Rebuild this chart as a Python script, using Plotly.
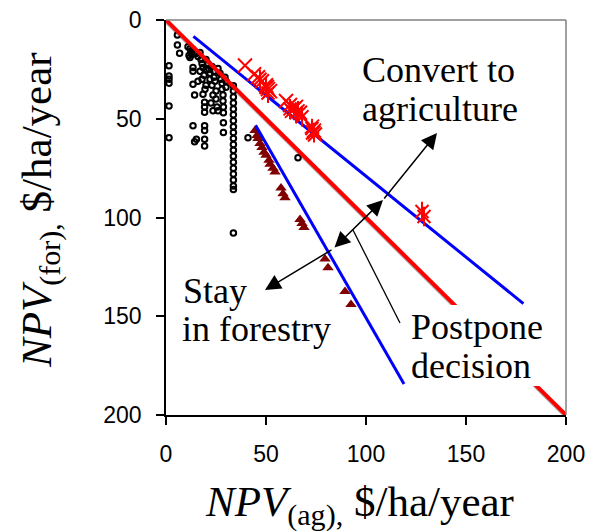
import plotly.graph_objects as go

# ---------------- data ----------------
circle_x = [5.7, 5.7, 6.8, 1.5, 1.5, 1.5, 1.5, 1.5, 1.5,
            11, 12, 12.5, 13, 11.5, 13.5, 12, 13.5, 13.5, 13.5, 14.3, 13.5, 15.2, 14.3,
            15, 16, 17, 17.5, 18, 18.5, 17, 19, 18, 16, 18.5, 19.3, 19.3, 19.3, 19.3, 19.3, 19.3, 19.3, 20, 20, 20, 19.5,
            21, 21.5, 22, 22, 23, 23, 23.5, 24, 24, 24.5, 25, 25, 25.5, 26, 26, 22.5, 23.5,
            27, 27.5, 28, 28, 28.5, 28.5, 28.7, 28.7, 28.7, 28.7, 29.5, 30, 30,
            33.7, 33.7, 33.7, 33.7, 33.7, 33.7, 33.7, 33.7, 33.7, 33.7, 33.7, 33.7, 33.7, 33.7, 33.7, 33.7, 33.7, 33.7, 33.7, 33.7,
            41, 66]
circle_y = [7.6, 12.7, 16.8, 23.2, 28.3, 30, 32, 43.5, 59.6,
            13.5, 14.5, 16, 17.5, 18, 15, 19, 24, 26, 32.5, 38, 53.6, 60.4, 61.6,
            17, 18.5, 16.5, 20, 22, 24, 26, 28, 30, 31, 37.6, 41.6, 44, 46.7, 53.6, 56, 60.4, 63.8, 20, 25, 33, 35,
            22, 25, 27, 30, 23.5, 33, 38, 26, 29, 31, 36, 40, 44, 46, 24.5, 42, 46,
            27, 30, 32, 35, 38, 41, 44, 47, 52, 57, 29, 31, 34,
            33.3, 36, 39, 42, 45, 48, 51, 54, 57, 60, 63, 66, 69, 72, 75, 78, 81, 84, 85.8, 107.8,
            59.6, 69.7]

cross_x = [39.5, 44, 46, 48, 50, 51, 52, 50.5, 60, 62, 64, 65, 67, 63, 73, 74, 74.5, 73.5]
cross_y = [23, 27.5, 29, 31, 33, 35, 36, 34, 41, 43, 45, 44, 47, 46, 54, 56, 58, 57]

star_x = [47, 50, 51, 62, 65, 66, 68, 73, 74, 128, 129]
star_y = [30, 34, 37, 45, 47, 46, 49, 55, 57, 97, 99.5]

tri_x = [44.5, 45.5, 46, 47, 48, 49, 50, 51.5, 52, 53.5, 54.5, 57.5, 58.5, 59.5, 67, 68, 69, 79.5, 81, 89.5, 92.5]
tri_y = [56, 58.5, 60, 62.5, 64.5, 67, 68.5, 71, 73, 75, 77, 85, 88, 90, 101, 103, 105, 121, 125.5, 137.5, 144]

red_x = [0, 200]
red_y = [0, 200]
blue_upper_x = [13.7, 178.7]
blue_upper_y = [8.3, 143.6]
blue_lower_x = [44.8, 119]
blue_lower_y = [53.3, 184.3]

x_ticks = [0, 50, 100, 150, 200]
y_ticks = [0, 50, 100, 150, 200]

# ---------------- layout helpers ----------------
L, R, T, B = 166, 25, 20, 116
W, H = 591, 531
PW, PH = W - L - R, H - T - B


def px_x(px):
    return (px - L) / PW * 200


def px_y(py):
    return (py - T) / PH * 200


def pap_x(px):
    return (px - L) / PW


def pap_y(py):
    return (H - B - py) / PH


SERIF = "Liberation Serif, Times New Roman, serif"
SANS = "Liberation Sans, Arial, sans-serif"

fig = go.Figure()

# shadow for red line
fig.add_trace(go.Scatter(x=[v for v in red_x], y=[v + 1.6 for v in red_y], mode="lines",
                         line=dict(color="#b0b0b0", width=1.5), hoverinfo="skip"))

fig.add_trace(go.Scatter(x=circle_x, y=circle_y, mode="markers",
                         marker=dict(symbol="circle-open", size=5.5, color="black", line=dict(width=2))))
fig.add_trace(go.Scatter(x=tri_x, y=tri_y, mode="markers",
                         marker=dict(symbol="triangle-up", size=10, color="#800000")))
fig.add_trace(go.Scatter(x=red_x, y=red_y, mode="lines", line=dict(color="#ff0000", width=4)))
fig.add_trace(go.Scatter(x=blue_upper_x, y=blue_upper_y, mode="lines", line=dict(color="#0000ff", width=3)))
fig.add_trace(go.Scatter(x=blue_lower_x, y=blue_lower_y, mode="lines", line=dict(color="#0000ff", width=3)))
fig.add_trace(go.Scatter(x=cross_x, y=cross_y, mode="markers",
                         marker=dict(symbol="x-thin-open", size=14, color="#ff0000", line=dict(width=2, color="#ff0000"))))
fig.add_trace(go.Scatter(x=star_x, y=star_y, mode="markers",
                         marker=dict(symbol="x-thin-open", size=13, color="#ff0000", line=dict(width=2, color="#ff0000"))))
fig.add_trace(go.Scatter(x=star_x, y=star_y, mode="markers",
                         marker=dict(symbol="line-ns-open", size=14, color="#ff0000", line=dict(width=2, color="#ff0000"))))

shapes = [
    # white box behind "Postpone decision"
    dict(type="rect", xref="x", yref="y", x0=px_x(406), x1=px_x(541), y0=px_y(305), y1=px_y(386),
         fillcolor="white", line=dict(width=0), layer="above"),
    # frame top and right (gray)
    dict(type="line", xref="paper", yref="paper", x0=0, x1=1, y0=1, y1=1, line=dict(color="#808080", width=1.5)),
    dict(type="line", xref="paper", yref="paper", x0=1, x1=1, y0=0, y1=1, line=dict(color="#808080", width=1.5)),
    # pointer to "Postpone decision"
    dict(type="line", xref="x", yref="y", x0=px_x(353), y0=px_y(230), x1=px_x(400), y1=px_y(323),
         line=dict(color="black", width=1.3), layer="above"),
]

annotations = []


def label(text, px, py_base, size=36):
    annotations.append(dict(text=text, xref="paper", yref="paper", x=pap_x(px), y=pap_y(py_base - 0.3 * size),
                            xanchor="left", yanchor="middle", showarrow=False,
                            font=dict(family=SERIF, size=size, color="black")))


label("Convert to", 360, 81)
label("agriculture", 360, 120)
label("Stay", 181, 302)
label("in forestry", 180, 340)
label("Postpone", 409, 338)
label("decision", 409, 377)

P1 = (px_x(437), px_y(133))
P2 = (px_x(383), px_y(200))
P3 = (px_x(333), px_y(249))
P4 = (px_x(265), px_y(290))


def arrow(head, tail, side="end"):
    annotations.append(dict(text="", x=head[0], y=head[1], ax=tail[0], ay=tail[1], xref="x", yref="y",
                            axref="x", ayref="y", showarrow=True, arrowhead=2, arrowsize=2.1, arrowwidth=1.5,
                            arrowcolor="black", arrowside=side, standoff=0, startstandoff=0))


arrow(P1, P2)
arrow(P2, P3, "end+start")
arrow(P4, P3)

# axis titles
annotations.append(dict(text="<i>NPV</i><sub>(ag),</sub> $/ha/year", xref="paper", yref="paper",
                        x=pap_x(359), y=pap_y(505), xanchor="center", yanchor="middle", showarrow=False,
                        font=dict(family=SERIF, size=43, color="black")))
annotations.append(dict(text="<i>NPV</i><sub>(for),</sub> $/ha/year", xref="paper", yref="paper",
                        x=pap_x(40), y=pap_y(210), xanchor="center", yanchor="middle", showarrow=False,
                        textangle=-90, font=dict(family=SERIF, size=43, color="black")))

axis_common = dict(range=[0, 200], showgrid=False, zeroline=False, showline=True, linecolor="black",
                   linewidth=1.5, ticks="outside", ticklen=8, tickwidth=1.5, tickcolor="black",
                   tickfont=dict(family=SANS, size=23, color="black"), ticklabelstandoff=10, automargin=False)

fig.update_layout(
    width=W, height=H,
    margin=dict(l=L, r=R, t=T, b=B, autoexpand=False),
    paper_bgcolor="white", plot_bgcolor="white",
    showlegend=False,
    shapes=shapes,
    annotations=annotations,
    xaxis=dict(axis_common, tickvals=x_ticks, ticktext=[str(v) for v in x_ticks]),
    yaxis=dict(axis_common, range=[200, 0], tickvals=y_ticks, ticktext=[str(v) for v in y_ticks]),
)

fig.write_html("out.html", config={"displayModeBar": False},
               post_script="document.body.style.margin='0';document.body.style.overflow='hidden';")
